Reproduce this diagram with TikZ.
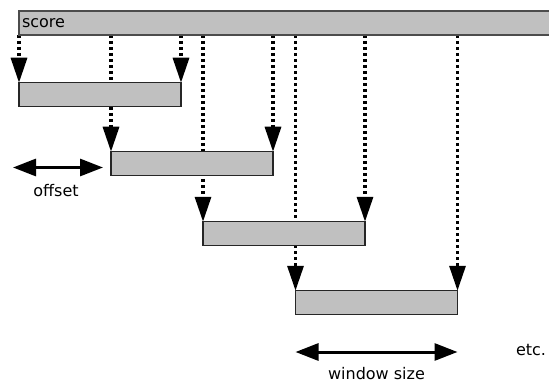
\documentclass[tikz,border=0pt]{standalone}
\usepackage{fontspec}
\setmainfont{DejaVu Sans}
\usetikzlibrary{arrows.meta, backgrounds, positioning}
\definecolor{boxgray}{RGB}{192,192,192}
\tikzstyle{scorebar}=[draw=black!70, fill=boxgray, line width=1.5pt, inner sep=3pt, outer sep=0pt, anchor=north west, minimum height=24pt, text width=554pt, align=left]
\tikzstyle{win}=[draw=black!85, fill=boxgray, line width=1.2pt, inner sep=0pt, outer sep=0pt, minimum width=162pt, minimum height=23.5pt]
\tikzstyle{feed}=[line width=3.2pt, dash pattern=on 3pt off 3pt, -{Triangle[length=25pt,width=16pt]}]
\tikzstyle{spanarrow}=[line width=3pt, {Triangle[length=23pt,width=17pt]}-{Triangle[length=23pt,width=17pt]}]
\tikzset{>=stealth}

\begin{document}
\begin{tikzpicture}[x=1pt, y=-1pt, font=\fontsize{16}{19}\selectfont]
\useasboundingbox (0,0) rectangle (549,385);

\node[scorebar] (score) at (19,11) {score};

\node[win] (w1) at (100,94.5) {};
\node[win] (w2) at (192,163.5) {};
\node[win] (w3) at (284,233.5) {};
\node[win] (w4) at (376.5,302.5) {};

\begin{scope}[on background layer]
\draw[feed] (score.south -| w1.west) -- (w1.north west);
\draw[feed] (score.south -| w1.east) -- (w1.north east);
\draw[feed] (score.south -| w2.west) -- (w2.north west);
\draw[feed] (score.south -| w2.east) -- (w2.north east);
\draw[feed] (score.south -| w3.west) -- (w3.north west);
\draw[feed] (score.south -| w3.east) -- (w3.north east);
\draw[feed] (score.south -| w4.west) -- (w4.north west);
\draw[feed] (score.south -| w4.east) -- (w4.north east);
\end{scope}

\coordinate (off1) at (13,167.5);
\coordinate (off2) at (103,167.5);
\draw[spanarrow] (off1) -- (off2);
\node (offset) at (56,191) {offset};

\coordinate (ws1) at (w4.west |- 0,352);
\coordinate (ws2) at (w4.east |- 0,352);
\draw[spanarrow] (ws1) -- (ws2);
\node (wsize) at (376.5,374) {window size};

\node (etc) at (531,350) {etc.};
\end{tikzpicture}
\end{document}
